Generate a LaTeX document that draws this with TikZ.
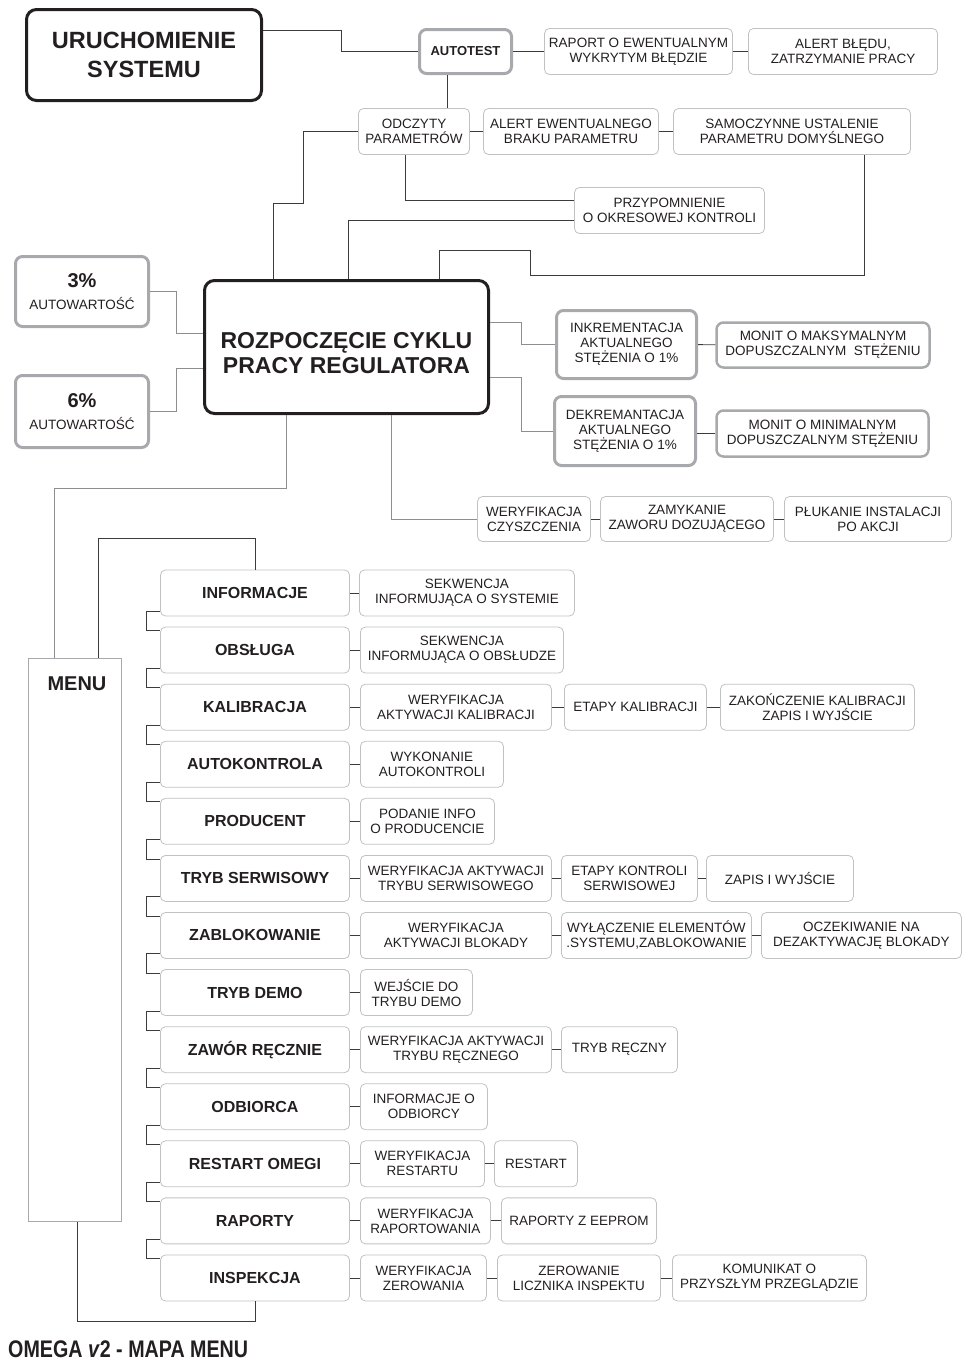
\documentclass[tikz,border=0pt]{standalone}
\usepackage{fontspec}
\setmainfont{Liberation Sans}
\definecolor{rimgray}{HTML}{A7A9AC}
\definecolor{palegray}{HTML}{BFC1C3}
\definecolor{inkgray}{HTML}{231F20}
\definecolor{wiregray}{HTML}{3C3C3C}
\definecolor{softwire}{HTML}{8C8E90}
\begin{document}
\begin{tikzpicture}[x=1pt,y=-1pt,
    link/.style={draw=wiregray,line width=.9pt},
    glink/.style={draw=softwire,line width=.9pt},
    sub/.style={draw=palegray,line width=.8pt,rounded corners=5pt,align=center,inner sep=1pt,
      minimum height=46pt,text=inkgray,font=\fontsize{13.5}{15}\selectfont},
    subw/.style={sub,anchor=west},
    item/.style={sub,minimum width=189pt,font=\bfseries\fontsize{16}{19}\selectfont},
    heavy/.style={draw=inkgray,line width=3pt,rounded corners=10pt,align=center,text=inkgray},
    soft/.style={draw=rimgray,line width=3pt,rounded corners=7pt,align=center,inner sep=1pt,
      text=inkgray,font=\fontsize{13.5}{15}\selectfont}]
  \useasboundingbox (0,0) rectangle (964,1360);

  % start-up
  \node[heavy,minimum width=235pt,minimum height=91pt,font=\bfseries\fontsize{23.5}{29}\selectfont] (start) at (144,55) {URUCHOMIENIE\\SYSTEMU};
  \node[soft,minimum width=92pt,minimum height=44pt,font=\bfseries\fontsize{13}{15}\selectfont] (selftest) at (465.5,51.5) {AUTOTEST};
  \node[sub,minimum width=188pt] (report) at (638.5,51.5) {RAPORT O EWENTUALNYM\\WYKRYTYM BŁĘDZIE};
  \node[sub,minimum width=189pt] (halt) at (843,51.5) {ALERT BŁĘDU,\\ZATRZYMANIE PRACY};
  \node[sub,minimum width=111pt] (readpar) at (414,131.5) {ODCZYTY\\PARAMETRÓW};
  \node[sub,minimum width=175pt] (nopar) at (571,131.5) {ALERT EWENTUALNEGO\\BRAKU PARAMETRU};
  \node[sub,minimum width=237pt] (defpar) at (792,131.5) {SAMOCZYNNE USTALENIE\\PARAMETRU DOMYŚLNEGO};
  \node[sub,minimum width=190pt] (remind) at (669.5,210.5) {PRZYPOMNIENIE\\O OKRESOWEJ KONTROLI};

  % work cycle
  \node[heavy,minimum width=284pt,minimum height=133pt,font=\bfseries\fontsize{23}{25.5}\selectfont] (cycle) at (346.5,347)
    {\raisebox{-9pt}[\height][\depth]{\begin{tabular}{@{}c@{}}ROZPOCZĘCIE CYKLU\\PRACY REGULATORA\end{tabular}}};
  \node[soft,minimum width=133pt,minimum height=70pt] (low) at (82,291.5) {{\bfseries\fontsize{20}{22}\selectfont 3\%}\\[7pt]AUTOWARTOŚĆ};
  \node[soft,minimum width=133pt,minimum height=72pt] (high) at (82,411.5) {{\bfseries\fontsize{20}{22}\selectfont 6\%}\\[7pt]AUTOWARTOŚĆ};
  \node[soft,minimum width=140pt,minimum height=68pt] (incr) at (626.5,344.5) {INKREMENTACJA\\AKTUALNEGO\\STĘŻENIA O 1\%};
  \node[soft,line width=2.5pt,minimum width=213pt,minimum height=45pt] (maxmsg) at (823,345) {MONIT O MAKSYMALNYM\\DOPUSZCZALNYM\ \ STĘŻENIU};
  \node[soft,minimum width=141pt,minimum height=69pt] (decr) at (625,431) {DEKREMANTACJA\\AKTUALNEGO\\STĘŻENIA O 1\%};
  \node[soft,line width=2.5pt,minimum width=212pt,minimum height=46pt] (minmsg) at (822.5,433.5) {MONIT O MINIMALNYM\\DOPUSZCZALNYM STĘŻENIU};
  \node[sub,minimum width=113pt,minimum height=45pt] (cleanchk) at (534,519) {WERYFIKACJA\\CZYSZCZENIA};
  \node[sub,minimum width=173pt,minimum height=45pt] (valve) at (687,519) {ZAMYKANIE\\ZAWORU DOZUJĄCEGO};
  \node[sub,minimum width=167pt,minimum height=45pt] (flush) at (868,519) {PŁUKANIE INSTALACJI\\PO AKCJI};

  % menu
  \node[draw=rimgray,line width=1.2pt,minimum width=93pt,minimum height=563pt,
    label={[font=\bfseries\fontsize{20}{24}\selectfont,text=inkgray,anchor=north,inner sep=0pt,xshift=2pt,yshift=-19pt]north:MENU}] (menu) at (75,940) {};
  \foreach \lab [count=\i] in {INFORMACJE,OBSŁUGA,KALIBRACJA,AUTOKONTROLA,PRODUCENT,TRYB SERWISOWY,ZABLOKOWANIE,TRYB DEMO,ZAWÓR RĘCZNIE,ODBIORCA,RESTART OMEGI,RAPORTY,INSPEKCJA}
    \node[item] (m\i) at (255,{593+57.08*(\i-1)}) {\lab};

  \node[subw,minimum width=215pt] (info) at (m1 -| 359,0) {SEKWENCJA\\INFORMUJĄCA O SYSTEMIE};
  \node[subw,minimum width=203pt] (care) at (m2 -| 360,0) {SEKWENCJA\\INFORMUJĄCA O OBSŁUDZE};
  \node[subw,minimum width=191pt] (calchk) at (m3 -| 360,0) {WERYFIKACJA\\AKTYWACJI KALIBRACJI};
  \node[subw,minimum width=142pt] (calsteps) at (m3 -| 564,0) {ETAPY KALIBRACJI};
  \node[subw,minimum width=194pt] (calend) at (m3 -| 720,0) {ZAKOŃCZENIE KALIBRACJI\\ZAPIS I WYJŚCIE};
  \node[subw,minimum width=143pt] (selfrun) at (m4 -| 360,0) {WYKONANIE\\AUTOKONTROLI};
  \node[subw,minimum width=134pt] (maker) at (m5 -| 360,0) {PODANIE INFO\\O PRODUCENCIE};
  \node[subw,minimum width=191pt] (srvchk) at (m6 -| 360,0) {WERYFIKACJA AKTYWACJI\\TRYBU SERWISOWEGO};
  \node[subw,minimum width=136pt] (srvsteps) at (m6 -| 561,0) {ETAPY KONTROLI\\SERWISOWEJ};
  \node[subw,minimum width=147pt] (srvend) at (m6 -| 706,0) {ZAPIS I WYJŚCIE};
  \node[subw,minimum width=191pt] (lockchk) at (m7 -| 360,0) {WERYFIKACJA\\AKTYWACJI BLOKADY};
  \node[subw,minimum width=190pt] (lockoff) at (m7 -| 561,0) {WYŁĄCZENIE ELEMENTÓW\\.SYSTEMU,ZABLOKOWANIE};
  \node[subw,minimum width=200pt] (lockwait) at (m7 -| 761,0) {OCZEKIWANIE NA\\DEZAKTYWACJĘ BLOKADY};
  \node[subw,minimum width=112pt] (demo) at (m8 -| 360,0) {WEJŚCIE DO\\TRYBU DEMO};
  \node[subw,minimum width=191pt] (handchk) at (m9 -| 360,0) {WERYFIKACJA AKTYWACJI\\TRYBU RĘCZNEGO};
  \node[subw,minimum width=116pt] (hand) at (m9 -| 561,0) {TRYB RĘCZNY};
  \node[subw,minimum width=127pt] (client) at (m10 -| 360,0) {INFORMACJE O\\ODBIORCY};
  \node[subw,minimum width=124pt] (rstchk) at (m11 -| 360,0) {WERYFIKACJA\\RESTARTU};
  \node[subw,minimum width=83pt] (rst) at (m11 -| 494,0) {RESTART};
  \node[subw,minimum width=130pt] (repchk) at (m12 -| 360,0) {WERYFIKACJA\\RAPORTOWANIA};
  \node[subw,minimum width=155pt] (eeprom) at (m12 -| 501,0) {RAPORTY Z EEPROM};
  \node[subw,minimum width=126pt] (zerochk) at (m13 -| 360,0) {WERYFIKACJA\\ZEROWANIA};
  \node[subw,minimum width=163pt] (zero) at (m13 -| 497,0) {ZEROWANIE\\LICZNIKA INSPEKTU};
  \node[subw,minimum width=194pt] (nextmsg) at (m13 -| 672,0) {KOMUNIKAT O\\PRZYSZŁYM PRZEGLĄDZIE};

  \node[anchor=west,inner sep=0pt,text=inkgray,font=\bfseries\fontsize{24}{28}\selectfont] (title) at (8,1349)
    {\scalebox{.82}[1]{OMEGA \textit{v}2 - MAPA MENU}};

  % connectors
  \draw[link] (start.east |- 0,30) -- (341,30) |- (selftest.west);
  \draw[link] (selftest) -- (report) -- (halt);
  \draw[link] (selftest.south -| 447,0) -- (readpar.north -| 447,0);
  \draw[link] (readpar) -- (nopar) -- (defpar);
  \draw[link] (readpar.west) -| (303,203) -| (cycle.north -| 273,0);
  \draw[link] (readpar.south -| 405,0) |- ([yshift=10pt]remind.west);
  \draw[link] ([yshift=-10pt]remind.west) -| (cycle.north -| 348,0);
  \draw[link] (defpar.south -| 864,0) |- (530,275) |- (439,250) -- (cycle.north -| 439,0);

  \draw[glink] (low.east) -| (176,333) -- (cycle.west |- 0,333);
  \draw[glink] (high.east) -| (176,368) -- (cycle.west |- 0,368);
  \draw[glink] (cycle.south -| 286,0) |- (54,488) -- (menu.north -| 54,0);
  \draw[glink] (cycle.south -| 391,0) |- (cleanchk.west);
  \draw[glink] (cycle.east |- 0,322) -- (521,322) |- (incr.west);
  \draw[glink] (cycle.east |- 0,377) -- (521,377) |- (decr.west);
  \draw[link] (incr) -- (maxmsg);
  \draw[link] (decr.east |- minmsg.west) -- (minmsg.west);
  \draw[link] (cleanchk) -- (valve) -- (flush);

  \draw[link] (menu.north -| 98,0) -- (98,538) -| (m1.north);
  \draw[link] (menu.south -| 77,0) -- (77,1321) -| (m13.south);
  \foreach \i [evaluate=\i as \j using int(\i+1)] in {1,...,12}
    \draw[link] ([yshift=5pt]m\i.south west) -- ++(-14,0) |- ([yshift=-4pt]m\j.north west);

  \draw[link] (m1) -- (info);
  \draw[link] (m2) -- (care);
  \draw[link] (m3) -- (calchk) -- (calsteps) -- (calend);
  \draw[link] (m4) -- (selfrun);
  \draw[link] (m5) -- (maker);
  \draw[link] (m6) -- (srvchk) -- (srvsteps) -- (srvend);
  \draw[link] (m7) -- (lockchk) -- (lockoff) -- (lockwait);
  \draw[link] (m8) -- (demo);
  \draw[link] (m9) -- (handchk) -- (hand);
  \draw[link] (m10) -- (client);
  \draw[link] (m11) -- (rstchk) -- (rst);
  \draw[link] (m12) -- (repchk) -- (eeprom);
  \draw[link] (m13) -- (zerochk) -- (zero) -- (nextmsg);
\end{tikzpicture}
\end{document}
